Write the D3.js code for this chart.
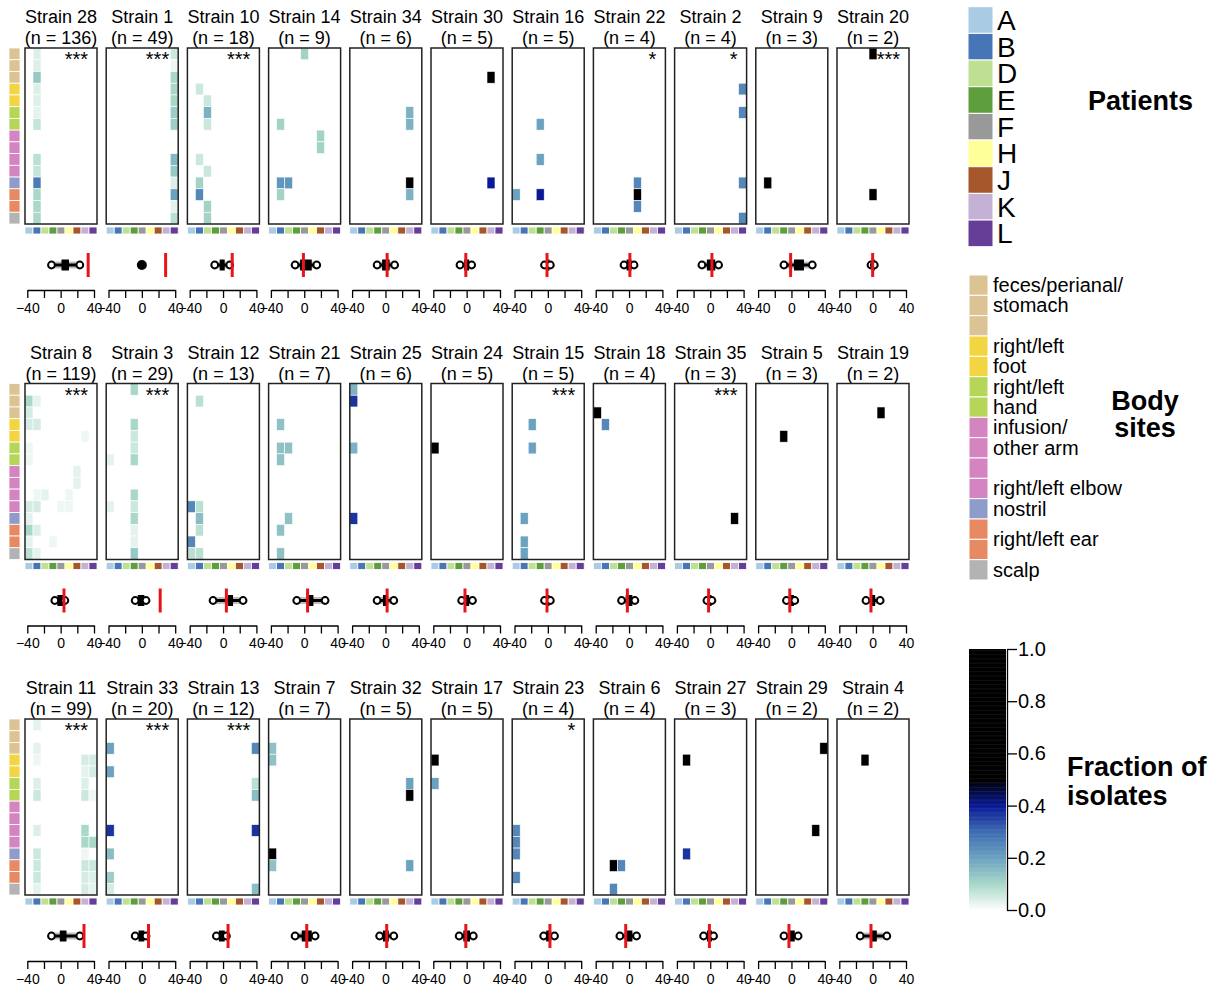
<!DOCTYPE html>
<html>
<head>
<meta charset="utf-8">
<script src="https://cdn.jsdelivr.net/npm/d3@7"></script>
<style>
  body { margin: 0; background: #fff; }
  svg { display: block; font-family: "Liberation Sans", Arial, Helvetica, sans-serif; }
</style>
</head>
<body>
<svg id="chart" width="1223" height="987"></svg>
<script>
// --- DATOS ---
const patients      = ["A", "B", "D", "E", "F", "H", "J", "K", "L"];
const patientColors = ["#a9cbe4", "#4676b6", "#bfe093", "#5e9e3c", "#999999", "#ffff99", "#a5572b", "#c4b1d6", "#653e98"];

const siteColors = ["#dcc394", "#dcc394", "#dcc394", "#f3d543", "#f3d543", "#b6d65a", "#b6d65a",
                    "#d384c1", "#d384c1", "#d384c1", "#d384c1", "#8e9ccc", "#e78a63", "#e78a63", "#b3b3b3"];
const siteLabels   = ["feces/perianal/", "stomach", "right/left", "foot", "right/left", "hand",
                      "infusion/", "other arm", "right/left elbow", "nostril", "right/left ear", "scalp"];
const siteLabelRow = [0, 1, 3, 4, 5, 6, 7, 8, 10, 11, 12.5, 14];

const strainNames = ["28", "1", "10", "14", "34", "30", "16", "22", "2", "9", "20",
                     "8", "3", "12", "21", "25", "24", "15", "18", "35", "5", "19",
                     "11", "33", "13", "7", "32", "17", "23", "6", "27", "29", "4"];
const strainN = [136, 49, 18, 9, 6, 5, 5, 4, 4, 3, 2,
                 119, 29, 13, 7, 6, 5, 5, 4, 3, 3, 2,
                 99, 20, 12, 7, 5, 5, 4, 4, 3, 2, 2];
const strainStars = ["***", "***", "***", "", "", "", "", "*", "*", "", "***",
                     "***", "***", "", "", "", "", "***", "", "***", "", "",
                     "***", "***", "***", "", "", "", "*", "", "", "", ""];

// [body-site row, patient column, fraction]
const heatCells = [
  [[0,1,.04],[1,1,.04],[2,1,.13],[3,1,.04],[4,1,.04],[5,1,.03],[6,1,.07],[9,1,.08],[10,1,.07],[11,1,.27],[12,1,.1],[13,1,.1],[14,1,.1]],
  [[0,8,.06],[1,8,.02],[2,8,.1],[3,8,.1],[4,8,.1],[5,8,.12],[6,8,.12],[9,8,.16],[10,8,.13],[11,8,.04],[12,8,.2],[13,8,.03],[14,8,.08]],
  [[3,1,.06],[4,2,.06],[5,2,.17],[6,2,.06],[9,1,.06],[10,2,.06],[11,1,.11],[12,1,.25],[13,2,.11],[14,2,.11]],
  [[0,4,.11],[6,1,.11],[7,6,.11],[8,6,.11],[11,1,.22],[11,2,.22],[12,1,.11]],
  [[5,7,.17],[6,7,.17],[11,7,.6],[12,7,.17]],
  [[2,7,.6],[11,7,.4]],
  [[6,3,.2],[9,3,.2],[12,3,.4],[12,0,.2]],
  [[11,5,.25],[12,5,.6],[13,5,.25]],
  [[3,8,.25],[5,8,.25],[11,8,.25],[14,8,.25]],
  [[11,1,.7]],
  [[0,4,.6],[12,4,.6]],

  [[1,0,.1],[1,1,.03],[2,0,.05],[3,0,.05],[3,1,.05],[4,7,.02],[5,0,.02],[6,0,.02],[7,6,.03],[8,6,.03],
   [9,1,.02],[9,2,.03],[9,5,.02],[10,0,.05],[10,1,.05],[10,4,.02],[10,5,.02],[11,0,.03],[12,0,.1],[12,1,.04],
   [13,0,.03],[13,3,.02],[14,0,.08],[14,1,.03]],
  [[0,3,.1],[3,3,.1],[4,3,.06],[5,3,.06],[6,3,.1],[9,3,.1],[10,3,.06],[11,3,.1],[12,3,.03],[13,3,.03],[14,3,.13],[6,0,.03],[10,0,.03]],
  [[1,1,.08],[10,0,.25],[10,1,.08],[11,1,.15],[12,1,.08],[13,0,.25],[14,0,.08],[14,1,.08]],
  [[3,1,.14],[5,1,.14],[5,2,.14],[6,1,.14],[11,2,.14],[12,1,.14],[14,1,.14]],
  [[0,0,.17],[1,0,.37],[5,0,.17],[11,0,.37]],
  [[5,0,.6]],
  [[3,2,.2],[5,2,.2],[11,1,.2],[13,1,.2],[14,1,.2]],
  [[2,0,.6],[3,1,.25]],
  [[11,7,.6]],
  [[4,3,.6]],
  [[2,5,.6]],

  [[0,1,.03],[2,1,.03],[3,1,.02],[5,1,.04],[6,1,.06],[9,1,.04],[11,1,.06],[12,1,.06],[13,1,.06],[14,1,.03],
   [3,7,.05],[4,7,.03],[5,7,.04],[6,7,.06],[9,7,.1],[10,7,.1],[11,7,.02],[12,7,.06],[13,7,.05],[14,7,.05],
   [3,8,.05],[4,8,.05],[6,8,.02],[10,8,.1],[12,8,.06],[13,8,.04],[14,8,.03]],
  [[2,0,.2],[4,0,.2],[9,0,.37],[11,0,.15],[13,0,.12],[14,0,.05]],
  [[2,8,.25],[5,8,.08],[6,8,.15],[9,8,.37],[14,8,.15]],
  [[2,0,.14],[3,0,.14],[11,0,.6],[12,0,.14]],
  [[5,7,.2],[6,7,.6],[12,7,.2]],
  [[3,0,.6],[5,0,.2]],
  [[9,0,.25],[10,0,.25],[11,0,.25],[13,0,.25]],
  [[12,2,.6],[12,3,.25],[14,2,.25]],
  [[3,1,.6],[11,1,.37]],
  [[2,8,.6],[9,7,.6]],
  [[3,3,.6]]
];

// boxplot summary [low, q1, q3, high] and observed value (red line)
const boxStats = [
  [-11, 1, 10, 23], [0, 0, 0, 0], [-10, -4, 2, 8], [-11, -5, 9, 15], [-10, -4, 5, 11], [-8, -3, 3, 6],
  [-4, -2, 2, 3], [-6, -3, 3, 6], [-10, -4, 6, 10], [-9, 3, 15, 25], [-2, -1, 1, 2],
  [-7, -4, 3, 5], [-8, -5, 3, 5], [-12, 6, 12, 24], [-9, 5, 11, 25], [-10, -3, 3, 10], [-6, -3, 3, 7],
  [-4, -2, 2, 3], [-9, -4, 4, 7], [-4, -2, 1, 2], [-6, -3, 3, 4], [-8, -3, 3, 9],
  [-11, -1, 7, 23], [-8, -4, 3, 5], [-8, -5, 2, 4], [-11, -3, 9, 13], [-7, -3, 4, 10], [-9, -4, 4, 8],
  [-5, -2, 4, 8], [-11, -4, 4, 9], [-8, -4, 2, 4], [-9, -4, 4, 8], [-15, -3, 5, 17]
];
const observed = [33, 28.5, 11, -1, 2, -1, -1, 1, 2, -1, 0,
                  4, 22, 4, 4, 2, -2, -1, -2, -2, -2, -2,
                  28, 8, 6, 3, 1.5, -1, 2.5, -4, -1, -3, -2];

const axisTicks  = [-40, -20, 0, 20, 40];
const axisLabels = [-40, 0, 40];
const colorTicks = [0, 0.2, 0.4, 0.6, 0.8, 1.0];

// --- ESCALAS ---
const fracColor = d3.scaleLinear()
  .domain([0, 0.1, 0.2, 0.3, 0.4, 0.5, 1])
  .range(["#ffffff", "#a9d8c8", "#6ba2c0", "#3f6cb2", "#0a1a96", "#000000", "#000000"])
  .clamp(true);

const svg = d3.select("#chart");
const PITCH_X = 81.2, PITCH_Y = 335.5;
const BOX_W = 72, BOX_H = 176;

strainNames.forEach((name, i) => {
  const r = Math.floor(i / 11), c = i % 11;
  const x0 = 25 + c * PITCH_X;
  const y0 = 48 + r * PITCH_Y;
  const g = svg.append("g");

  const xCol = d3.scaleBand().domain(d3.range(9)).range([x0, x0 + BOX_W]);
  const yRow = d3.scaleBand().domain(d3.range(15)).range([y0, y0 + BOX_H]);

  // titulos
  g.append("text").attr("x", x0 + BOX_W / 2).attr("y", y0 - 25)
    .attr("text-anchor", "middle").style("font-size", "18px").text(`Strain ${name}`);
  g.append("text").attr("x", x0 + BOX_W / 2).attr("y", y0 - 4)
    .attr("text-anchor", "middle").style("font-size", "18px").text(`(n = ${strainN[i]})`);

  // heatmap
  g.selectAll("rect.cell").data(heatCells[i]).join("rect")
    .attr("x", d => xCol(d[1])).attr("y", d => yRow(d[0]))
    .attr("width", xCol.bandwidth()).attr("height", yRow.bandwidth())
    .attr("fill", d => fracColor(d[2]))
    .attr("stroke", "#fff").attr("stroke-width", 0.6);

  g.append("rect").attr("x", x0).attr("y", y0).attr("width", BOX_W).attr("height", BOX_H)
    .attr("fill", "none").attr("stroke", "#222").attr("stroke-width", 1.5);

  if (strainStars[i]) {
    g.append("text").attr("x", x0 + BOX_W - 9).attr("y", y0 + 18)
      .attr("text-anchor", "end").style("font-size", "20px").text(strainStars[i]);
  }

  // tira de pacientes
  g.selectAll("rect.pat").data(patients).join("rect")
    .attr("x", (d, j) => xCol(j)).attr("y", y0 + BOX_H + 3)
    .attr("width", xCol.bandwidth()).attr("height", 7)
    .attr("fill", (d, j) => patientColors[j])
    .attr("stroke", "#fff").attr("stroke-width", 0.8);

  // boxplot
  const xv = d3.scaleLinear().domain([-40, 40]).range([x0 + 2.3, x0 + 69]);
  const by = y0 + BOX_H + 41;
  const [lo, q1, q3, hi] = boxStats[i];
  if (lo === hi) {
    g.append("circle").attr("cx", xv(lo)).attr("cy", by).attr("r", 5).attr("fill", "#000");
  } else {
    g.append("rect").attr("x", xv(lo)).attr("y", by - 3.5).attr("width", xv(hi) - xv(lo))
      .attr("height", 7).attr("fill", "#000").attr("opacity", 0.25);
    g.append("line").attr("x1", xv(lo)).attr("x2", xv(hi)).attr("y1", by).attr("y2", by)
      .attr("stroke", "#000").attr("stroke-width", 3);
    g.append("rect").attr("x", xv(q1)).attr("y", by - 5.5).attr("width", Math.max(3, xv(q3) - xv(q1)))
      .attr("height", 11).attr("fill", "#000");
    [lo, hi].forEach(v => {
      g.append("circle").attr("cx", xv(v)).attr("cy", by).attr("r", 3.4)
        .attr("fill", "#fff").attr("stroke", "#000").attr("stroke-width", 2);
    });
  }
  g.append("line").attr("x1", xv(observed[i])).attr("x2", xv(observed[i]))
    .attr("y1", by - 12).attr("y2", by + 12)
    .attr("stroke", "#e8141b").attr("stroke-width", 3);

  // eje
  const ax = g.append("g").attr("transform", `translate(0,${y0 + BOX_H + 66})`)
    .call(d3.axisBottom(xv).tickValues(axisTicks).tickSizeInner(8).tickSizeOuter(0)
      .tickFormat(d => axisLabels.includes(d) ? d3.format("d")(d) : ""));
  ax.select(".domain").attr("stroke", "#000").attr("stroke-width", 1.3);
  ax.selectAll(".tick line").attr("stroke", "#000").attr("stroke-width", 1.3);
  ax.selectAll(".tick text").style("font-size", "14px").style("font-family", "Liberation Sans, Arial, sans-serif")
    .attr("fill", "#000").attr("y", 13);
});

// tira de sitios corporales (izquierda)
[0, 1, 2].forEach(r => {
  const y0 = 48 + r * PITCH_Y;
  const yRow = d3.scaleBand().domain(d3.range(15)).range([y0, y0 + BOX_H]);
  svg.append("g").selectAll("rect").data(siteColors).join("rect")
    .attr("x", 9).attr("y", (d, k) => yRow(k))
    .attr("width", 11).attr("height", yRow.bandwidth())
    .attr("fill", d => d).attr("stroke", "#fff").attr("stroke-width", 0.8);
});

// --- LEYENDAS ---
const patY = d3.scaleBand().domain(patients).range([6.7, 246.7]);
const patLeg = svg.append("g");
patLeg.selectAll("rect").data(patients).join("rect")
  .attr("x", 968).attr("y", d => patY(d)).attr("width", 25).attr("height", patY.bandwidth())
  .attr("fill", (d, j) => patientColors[j]).attr("stroke", "#fff").attr("stroke-width", 1);
patLeg.selectAll("text").data(patients).join("text")
  .attr("x", 997).attr("y", d => patY(d) + patY.bandwidth() / 2).attr("dy", "0.36em")
  .style("font-size", "28px").text(d => d);
svg.append("text").attr("x", 1088).attr("y", 110).style("font-size", "27px")
  .style("font-weight", "bold").text("Patients");

const siteY = d3.scaleBand().domain(d3.range(15)).range([275, 580]);
const siteLeg = svg.append("g");
siteLeg.selectAll("rect").data(siteColors).join("rect")
  .attr("x", 969).attr("y", (d, k) => siteY(k)).attr("width", 19).attr("height", siteY.bandwidth())
  .attr("fill", d => d).attr("stroke", "#fff").attr("stroke-width", 1);
siteLeg.selectAll("text").data(siteLabels).join("text")
  .attr("x", 993).attr("y", (d, k) => siteY(0) + (siteLabelRow[k] + 0.5) * siteY.step()).attr("dy", "0.34em")
  .style("font-size", "20px").text(d => d);
svg.append("text").attr("x", 1145).attr("y", 410).attr("text-anchor", "middle")
  .style("font-size", "27px").style("font-weight", "bold").text("Body");
svg.append("text").attr("x", 1145).attr("y", 437).attr("text-anchor", "middle")
  .style("font-size", "27px").style("font-weight", "bold").text("sites");

// barra de color
const cbY = d3.scaleLinear().domain([0, 1]).range([910, 649]);
const cb = svg.append("g");
cb.selectAll("rect").data(d3.range(0, 1, 0.005)).join("rect")
  .attr("x", 969).attr("width", 37)
  .attr("y", d => cbY(d + 0.005)).attr("height", cbY(0) - cbY(0.005) + 0.5)
  .attr("fill", d => fracColor(d + 0.0025));
const cbAx = svg.append("g").attr("transform", "translate(1007,0)")
  .call(d3.axisRight(cbY).tickValues(colorTicks).tickSizeInner(10).tickSizeOuter(0).tickFormat(d3.format(".1f")));
cbAx.select(".domain").attr("stroke", "#000").attr("stroke-width", 1.3);
cbAx.selectAll(".tick line").attr("stroke", "#000").attr("stroke-width", 1.3);
cbAx.selectAll(".tick text").style("font-size", "20px").style("font-family", "Liberation Sans, Arial, sans-serif")
  .attr("fill", "#000").attr("x", 11);
svg.append("text").attr("x", 1067).attr("y", 776).style("font-size", "27px")
  .style("font-weight", "bold").text("Fraction of");
svg.append("text").attr("x", 1067).attr("y", 805).style("font-size", "27px")
  .style("font-weight", "bold").text("isolates");
</script>
</body>
</html>
